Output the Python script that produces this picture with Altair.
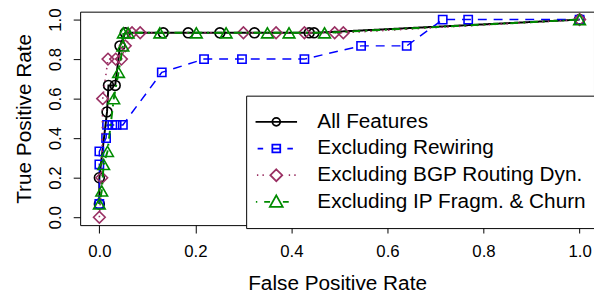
import altair as alt
import pandas as pd

# ---------------- data ----------------
series_names = ["All Features", "Excluding Rewiring",
                "Excluding BGP Routing Dyn.", "Excluding IP Fragm. & Churn"]

all_fpr = [0.0, 0.0, 0.016, 0.019, 0.033, 0.043, 0.054, 0.133, 0.185, 0.251, 0.323, 0.437, 0.447, 1.0]
all_tpr = [0.067, 0.2, 0.533, 0.667, 0.667, 0.867, 0.933, 0.933, 0.933, 0.933, 0.933, 0.933, 0.933, 1.0]

rew_fpr = [0.0, 0.0, 0.0, 0.014, 0.016, 0.027, 0.036, 0.049, 0.13, 0.218, 0.297, 0.427, 0.545, 0.64, 0.715, 0.768, 1.0]
rew_tpr = [0.067, 0.267, 0.333, 0.4, 0.467, 0.467, 0.467, 0.467, 0.733, 0.8, 0.8, 0.8, 0.867, 0.867, 1.0, 1.0, 1.0]

bgp_fpr = [0.0, 0.005, 0.007, 0.018, 0.034, 0.046, 0.054, 0.068, 0.085, 0.3, 0.368, 0.427, 0.49, 0.508, 1.0]
bgp_tpr = [0.0, 0.2, 0.6, 0.8, 0.8, 0.8, 0.867, 0.933, 0.933, 0.933, 0.933, 0.933, 0.933, 0.933, 1.0]

ip_fpr = [0.0, 0.005, 0.009, 0.017, 0.03, 0.04, 0.049, 0.05, 0.06, 0.126, 0.202, 0.264, 0.35, 0.395, 0.469, 1.0]
ip_tpr = [0.067, 0.133, 0.267, 0.333, 0.6, 0.733, 0.867, 0.933, 0.933, 0.933, 0.933, 0.933, 0.933, 0.933, 0.933, 1.0]

tick_values = [0.0, 0.2, 0.4, 0.6, 0.8, 1.0]

# ---------------- styles ----------------
colors = ["#000000", "#0000FF", "#9A3063", "#008B00"]
dashes = [[1, 0], [9, 7], [1.5, 4.5], [2, 5, 8, 5]]
line_widths = [2, 1.5, 1.6, 2]
shapes = ["circle", "square", "diamond", "triangle-up"]
sizes = [100, 70, 140, 140]

# legend symbols: line pattern + marker (unit = 7 px)
legend_paths = [
    "M-3,0L3,0M0.57,0A0.57,0.57,0,1,1,-0.57,0A0.57,0.57,0,1,1,0.57,0Z",
    "M-2.7,0L-1.9,0M-0.57,-0.57L0.57,-0.57L0.57,0.57L-0.57,0.57ZM-0.57,0L0.57,0M1.6,0L2.4,0",
    "M-2.8,0L-2.6,0M-2.0,0L-1.8,0M0,-0.86L0.86,0L0,0.86L-0.86,0ZM1.8,0L2.0,0M2.6,0L2.8,0",
    "M-2.95,0L-2.75,0M-1.75,0L-0.9,0M0,-0.95L0.93,0.72L-0.93,0.72ZM0.95,0L1.8,0",
]

frames = []
for name, fx, ty in zip(series_names,
                        [all_fpr, rew_fpr, bgp_fpr, ip_fpr],
                        [all_tpr, rew_tpr, bgp_tpr, ip_tpr]):
    frames.append(pd.DataFrame({"series": name, "fpr": fx, "tpr": ty,
                                "idx": list(range(len(fx)))}))
df = pd.concat(frames, ignore_index=True)

FONT = "Liberation Sans"

x_enc = alt.X("fpr:Q",
              scale=alt.Scale(domain=[-0.04, 1.03], nice=False, zero=False),
              axis=alt.Axis(values=tick_values, format=".1f", title="False Positive Rate",
                            tickSize=8, labelPadding=24, labelBaseline="alphabetic",
                            labelFontSize=17, titleFontSize=21, titleBaseline="alphabetic",
                            titleY=65, labelFlush=False))
y_enc = alt.Y("tpr:Q",
              scale=alt.Scale(domain=[-0.04, 1.04], nice=False, zero=False),
              axis=alt.Axis(values=tick_values, format=".1f", title="True Positive Rate",
                            tickSize=7, labelAngle=270, labelAlign="center",
                            labelBaseline="alphabetic", labelPadding=13,
                            labelFontSize=17, titleFontSize=21, titleBaseline="alphabetic",
                            titleX=-50, titleY=108, titleAngle=270, labelFlush=False))

layers = []
for i, name in enumerate(series_names):
    base = alt.Chart(df).transform_filter(alt.datum.series == name)
    line = base.mark_line(color=colors[i], strokeWidth=line_widths[i],
                          strokeDash=dashes[i], clip=True).encode(
        x=x_enc, y=y_enc, order=alt.Order("idx:Q"))
    pts = base.mark_point(color=colors[i], shape=shapes[i], size=sizes[i],
                          filled=False, opacity=1, strokeWidth=1.6, clip=True).encode(
        x=x_enc, y=y_enc)
    layers += [line, pts]

legend_cfg = dict(title=None, orient="none", legendX=168, legendY=85,
                  strokeColor="black", fillColor="white", padding=16,
                  labelFontSize=21, labelFont=FONT, labelColor="black",
                  symbolSize=196, symbolStrokeWidth=1.8, symbolOffset=4,
                  labelOffset=31, rowPadding=5, labelLimit=500,
                  labelExpr="datum.label + '\u00a0\u00a0\u00a0\u00a0\u00a0'")

legend_layer = alt.Chart(df).transform_filter("false").mark_point(
    filled=False, opacity=1).encode(
    x=x_enc, y=y_enc,
    shape=alt.Shape("series:N", scale=alt.Scale(domain=series_names, range=legend_paths),
                    legend=alt.Legend(**legend_cfg)),
    color=alt.Color("series:N", scale=alt.Scale(domain=series_names, range=colors),
                    legend=alt.Legend(**legend_cfg)),
)

chart = alt.layer(*layers, legend_layer).properties(
    width=520, height=216,
    autosize=alt.AutoSizeParams(type="none"),
    padding={"left": 73, "top": 2, "right": 0, "bottom": 70},
    background="white",
).configure_view(stroke="black", strokeWidth=1).configure_axis(
    grid=False, domain=False, tickColor="black", tickWidth=1,
    labelColor="black", titleColor="black", labelFont=FONT, titleFont=FONT,
    titleFontWeight="normal",
)

chart.save("out.html", embed_options={"renderer": "svg", "actions": False})
